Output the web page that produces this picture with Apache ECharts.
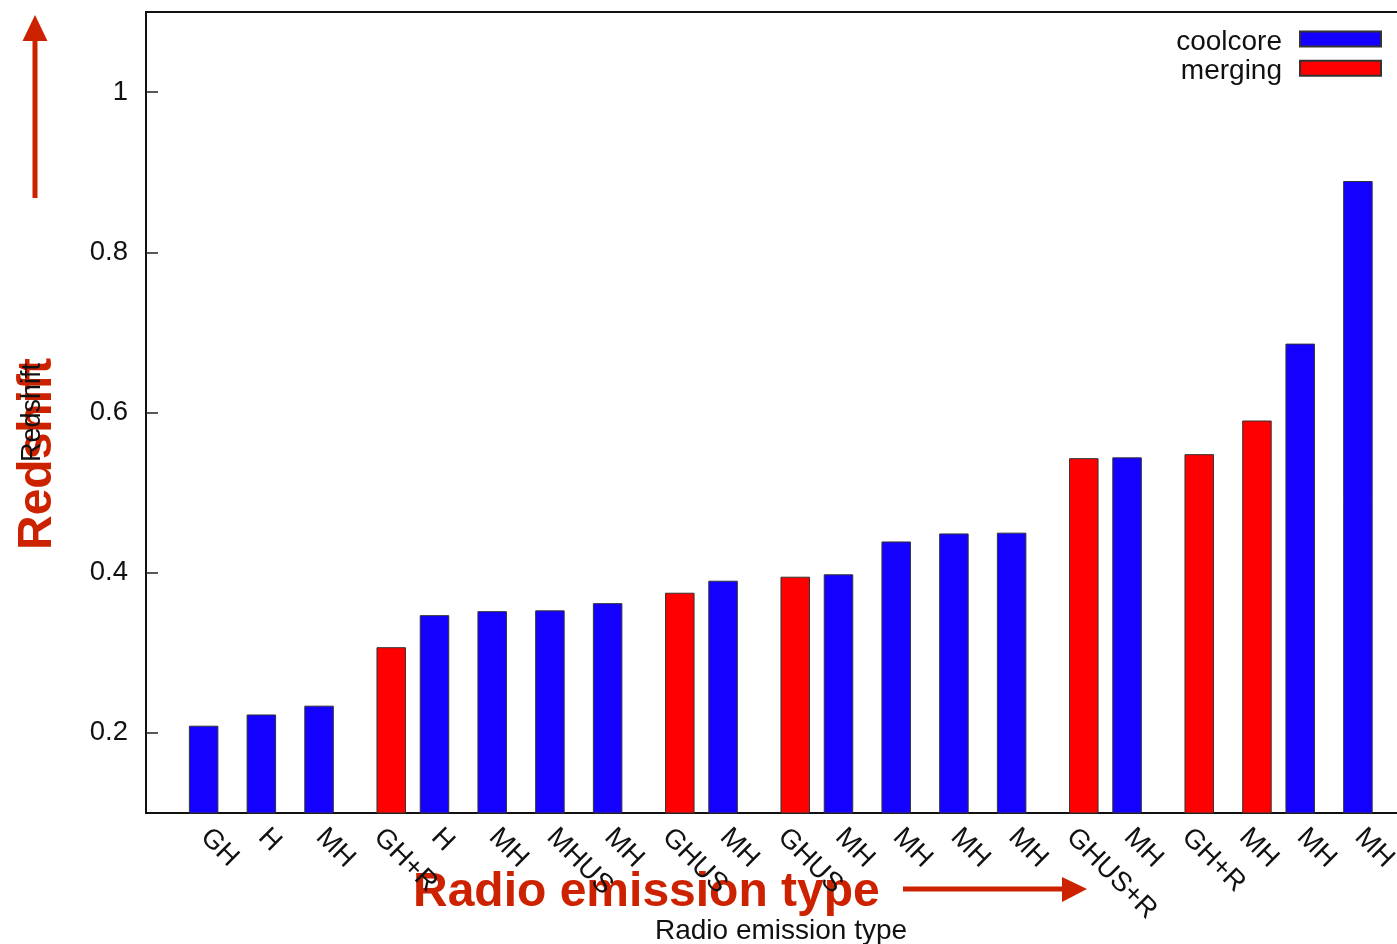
<!DOCTYPE html>
<html>
<head>
<meta charset="utf-8">
<script src="https://cdn.jsdelivr.net/npm/echarts@6/dist/echarts.min.js"></script>
<style>
html,body{margin:0;padding:0;background:#fff;}
#chart{width:1397px;height:944px;}
</style>
</head>
<body>
<div id="chart"></div>
<script>
const categories = ['GH','H','MH','GH+R','H','MH','MHUS','MH','GHUS','MH','GHUS','MH','MH','MH','MH','GHUS+R','MH','GH+R','MH','MH','MH'];
const coolcore = [0.209,0.223,0.234,null,0.347,0.352,0.353,0.362,null,0.390,null,0.398,0.439,0.449,0.450,null,0.544,null,null,0.686,0.889];
const merging  = [null,null,null,0.307,null,null,null,null,0.375,null,0.395,null,null,null,null,0.543,null,0.548,0.590,null,null];
const yTicks = [0.2,0.4,0.6,0.8,1];

const FONT = '"Liberation Sans", Arial, Helvetica, sans-serif';
const ANNOT = '#cc2200';

const chart = echarts.init(document.getElementById('chart'));
chart.setOption({
  backgroundColor: '#fff',
  animation: false,
  textStyle: { fontFamily: FONT },
  grid: [
    { left: 146, right: -19, top: 12, bottom: 131, show: true, borderColor: '#111', borderWidth: 2, backgroundColor: 'transparent', containLabel: false, outerBoundsMode: 'none' },
    { left: 182, right: 3, top: 12, bottom: 131, containLabel: false, outerBoundsMode: 'none' }
  ],
  legend: {
    data: ['coolcore','merging'],
    orient: 'vertical',
    align: 'right',
    icon: 'rect',
    right: 15,
    top: 28,
    padding: 0,
    itemWidth: 81,
    itemHeight: 15,
    itemGap: 1.2,
    formatter: function (name) { return '{t|' + name + '}'; },
    textStyle: { fontFamily: FONT, fontSize: 28, color: '#111', padding: [0, 13, 0, 0],
      rich: { t: { fontFamily: FONT, fontSize: 28, color: '#111', padding: [6, 0, 0, 0] } } }
  },
  xAxis: [
    { type: 'value', gridIndex: 0, min: 0, max: 1,
      axisLine: { show: false }, axisTick: { show: false }, axisLabel: { show: false }, splitLine: { show: false },
      name: 'Radio emission type', nameLocation: 'middle', nameGap: 104,
      nameTextStyle: { fontFamily: FONT, fontSize: 28, color: '#111' } },
    { type: 'category', gridIndex: 1, data: categories,
      axisLine: { show: false }, axisTick: { show: false }, splitLine: { show: false },
      axisLabel: { rotate: -45, interval: 0, margin: 14, verticalAlign: 'top', lineHeight: 17,
        fontFamily: FONT, fontSize: 27.5, color: '#111' } }
  ],
  yAxis: [
    { type: 'value', gridIndex: 0, min: 0.1, max: 1.1,
      axisLine: { show: false }, splitLine: { show: false },
      axisTick: { show: true, inside: true, length: 12, customValues: yTicks, lineStyle: { color: '#222', width: 1.5 } },
      axisLabel: { show: true, margin: 18, customValues: yTicks, fontFamily: FONT, fontSize: 27.5, color: '#111' },
      name: 'Redshift', nameLocation: 'middle', nameRotate: 90, nameGap: 100,
      nameTextStyle: { fontFamily: FONT, fontSize: 27, color: '#111' } },
    { type: 'value', gridIndex: 1, min: 0.1, max: 1.1, show: false, splitLine: { show: false } }
  ],
  series: [
    { name: 'coolcore', type: 'bar', xAxisIndex: 1, yAxisIndex: 1, data: coolcore,
      barWidth: 29.5, barGap: '-51%',
      itemStyle: { color: '#1400ff', borderColor: '#333', borderWidth: 1 } },
    { name: 'merging', type: 'bar', xAxisIndex: 1, yAxisIndex: 1, data: merging,
      barWidth: 29.5, barGap: '-51%',
      itemStyle: { color: '#ff0000', borderColor: '#333', borderWidth: 1 } }
  ],
  graphic: {
    elements: [
      { type: 'rect', z: -1, shape: { x: 32.5, y: 38, width: 5, height: 160 }, style: { fill: ANNOT } },
      { type: 'polygon', z: -1, shape: { points: [[35,15],[22.5,41],[47.5,41]] }, style: { fill: ANNOT } },
      { type: 'rect', z: -1, shape: { x: 903, y: 886.5, width: 162, height: 5 }, style: { fill: ANNOT } },
      { type: 'polygon', z: -1, shape: { points: [[1087,889],[1062,877],[1062,902]] }, style: { fill: ANNOT } },
      { type: 'text', z: -1, x: 413, y: 893, style: { text: 'Radio emission type', font: 'bold 48px ' + FONT, fill: ANNOT, align: 'left', verticalAlign: 'middle' } },
      { type: 'text', z: -1, x: 38, y: 454, rotation: Math.PI / 2, style: { text: 'Redshift', font: 'bold 48px ' + FONT, fill: ANNOT, align: 'center', verticalAlign: 'middle' } }
    ]
  }
});
</script>
</body>
</html>
